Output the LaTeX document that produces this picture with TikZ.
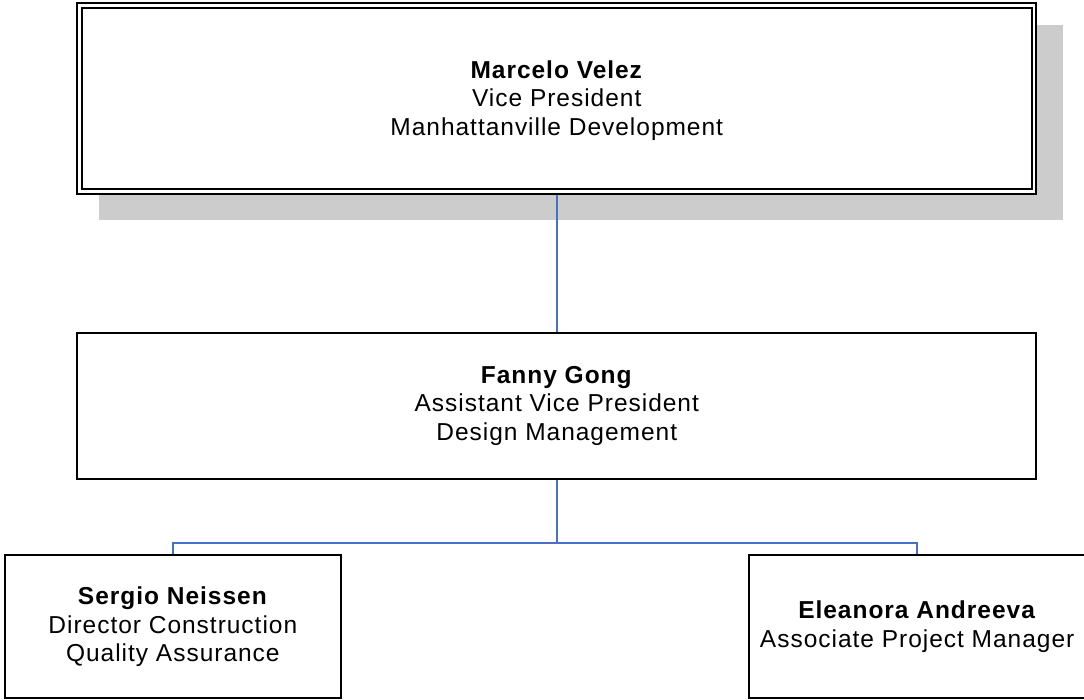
\documentclass[tikz,border=0pt]{standalone}
\usepackage{fontspec}
\setmainfont{Liberation Sans}[LetterSpace=4]
\usetikzlibrary{backgrounds}
\definecolor{linkblue}{HTML}{4472C4}
\definecolor{shadowgray}{HTML}{CCCCCC}
\begin{document}
\begin{tikzpicture}[x=1pt,y=-1pt,
  boxtext/.style={align=center,font=\fontsize{24.5}{28.5}\selectfont,inner sep=0pt},
  plainbox/.style={boxtext,draw=black,line width=2pt,fill=white,minimum width=#1},
  topbox/.style={boxtext,draw=black,line width=2.1pt,double=white,double distance=2.3pt,fill=white},
  link/.style={draw=linkblue,line width=2pt}]
\useasboundingbox (0,0) rectangle (1084,700);
\node[topbox,minimum width=954.5pt,minimum height=186pt] (vp) at (556.75,98.6) {};
\node[boxtext] (vptext) at (556.75,100.6)
  {\textbf{Marcelo Velez}\\Vice President\\Manhattanville Development};
\node[plainbox=958.9pt,minimum height=145.7pt] (avp) at (556.75,405.9)
  {\textbf{Fanny Gong}\\Assistant Vice President\\Design Management};
\node[plainbox=335.7pt,minimum height=142.9pt] (dir) at (172.85,626.75)
  {\textbf{Sergio Neissen}\\Director Construction\\Quality Assurance};
\node[plainbox=335.7pt,minimum height=142.9pt] (apm) at (917.15,626.75)
  {\textbf{Eleanora Andreeva}\\Associate Project Manager};
\coordinate (bus) at (556.75,543.3);
\begin{pgfonlayer}{background}
  \fill[shadowgray] (99,25) rectangle (1063,220);
  \draw[link] (vp.south) -- (avp.north);
  \draw[link] (avp.south) -- (bus);
  \draw[link] (dir.north) |- (bus) -| (apm.north);
\end{pgfonlayer}
\end{tikzpicture}
\end{document}
